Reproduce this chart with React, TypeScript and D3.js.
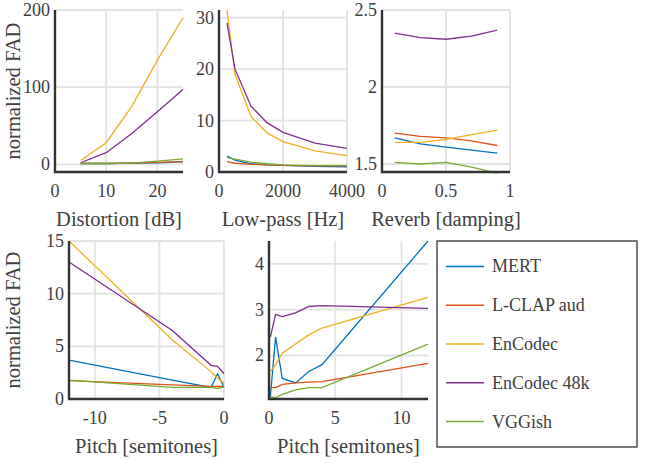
import * as d3 from "d3";

const names = ["MERT", "L-CLAP aud", "EnCodec", "EnCodec 48k", "VGGish"];
const colors = ["#0072BD", "#D95319", "#EDB120", "#7E2F8E", "#77AC30"];

const distX = [5, 10, 15, 20, 25];
const distY = [
  [1, 1, 1.5, 2, 3],
  [1, 1, 1.5, 2.5, 3.5],
  [5, 28, 75, 135, 190],
  [2, 15, 40, 68, 97],
  [1, 1, 1.5, 4, 7],
];
const lpX = [250, 500, 1000, 1500, 2000, 3000, 4000];
const lpY = [
  [3.1, 2.3, 1.6, 1.4, 1.3, 1.1, 1.0],
  [2.0, 1.7, 1.5, 1.4, 1.3, 1.2, 1.2],
  [31.5, 19, 10.8, 7.6, 5.9, 4.1, 3.2],
  [29, 20, 12.8, 9.6, 7.7, 5.6, 4.6],
  [2.8, 2.5, 1.9, 1.6, 1.4, 1.3, 1.3],
];
const revX = [0.1, 0.3, 0.5, 0.7, 0.9];
const revY = [
  [1.67, 1.63, 1.61, 1.59, 1.57],
  [1.70, 1.68, 1.67, 1.65, 1.62],
  [1.64, 1.64, 1.66, 1.69, 1.72],
  [2.35, 2.32, 2.31, 2.33, 2.37],
  [1.51, 1.50, 1.51, 1.48, 1.44],
];
const pnX = [-12, -4, -1, -0.5, 0];
const pnY = [
  [3.7, 1.8, 1.1, 2.4, 1.1],
  [1.75, 1.35, 1.2, 1.2, 1.2],
  [15, 5.6, 2.6, 2.0, 1.5],
  [13, 6.5, 3.2, 3.1, 2.4],
  [1.8, 1.1, 1.1, 1.0, 1.15],
];
const ppX = [0.1, 0.5, 1, 2, 3, 4, 12];
const ppY = [
  [1.1, 2.4, 1.5, 1.4, 1.65, 1.8, 4.5],
  [1.3, 1.3, 1.37, 1.4, 1.42, 1.43, 1.83],
  [1.65, 1.8, 2.05, 2.25, 2.45, 2.6, 3.27],
  [2.4, 2.9, 2.85, 2.93, 3.07, 3.09, 3.03],
  [1.1, 1.08, 1.15, 1.25, 1.3, 1.3, 2.25],
];

const FONT = "Liberation Serif, Times New Roman, serif";
const TXT = "#404040";

type P = {
  x0: number; x1: number; y0: number; y1: number;
  xd: [number, number]; yd: [number, number];
  xt: number[]; yt: number[]; xs: number[]; ys: number[][];
  label: string; ylab?: boolean;
};

const panels: P[] = [
  { x0: 55, x1: 183, y0: 172, y1: 10, xd: [0, 25], yd: [-10, 200], xt: [0, 10, 20], yt: [0, 100, 200], xs: distX, ys: distY, label: "Distortion [dB]", ylab: true },
  { x0: 219, x1: 347, y0: 172, y1: 10, xd: [0, 4000], yd: [0, 31.5], xt: [0, 2000, 4000], yt: [0, 10, 20, 30], xs: lpX, ys: lpY, label: "Low-pass [Hz]" },
  { x0: 382, x1: 510, y0: 172, y1: 10, xd: [0, 1], yd: [1.448, 2.5], xt: [0, 0.5, 1], yt: [1.5, 2, 2.5], xs: revX, ys: revY, label: "Reverb [damping]" },
  { x0: 69, x1: 224, y0: 399, y1: 241, xd: [-12, 0], yd: [0, 15], xt: [-10, -5, 0], yt: [0, 5, 10, 15], xs: pnX, ys: pnY, label: "Pitch [semitones]", ylab: true },
  { x0: 269, x1: 428, y0: 399, y1: 241, xd: [0, 12], yd: [1.05, 4.5], xt: [0, 5, 10], yt: [2, 3, 4], xs: ppX, ys: ppY, label: "Pitch [semitones]" },
];

function Panel({ p }: { p: P }) {
  const x = d3.scaleLinear().domain(p.xd).range([p.x0, p.x1]);
  const y = d3.scaleLinear().domain(p.yd).range([p.y0, p.y1]);
  const line = d3.line<number>().x((_d, i) => x(p.xs[i])).y((d) => y(d));
  return (
    <g>
      {p.xt.map((t) => <line key={"gx" + t} x1={x(t)} x2={x(t)} y1={p.y0} y2={p.y1} stroke="#e3e3e3" strokeWidth={1.8} />)}
      {p.yt.map((t) => <line key={"gy" + t} x1={p.x0} x2={p.x1} y1={y(t)} y2={y(t)} stroke="#e3e3e3" strokeWidth={1.8} />)}
      <g>
        {p.ys.map((s, i) => <path key={i} d={line(s) ?? ""} fill="none" stroke={colors[i]} strokeWidth={1.3} />)}
      </g>
      <path d={`M${p.x0},${p.y1}V${p.y0}H${p.x1}`} fill="none" stroke="#333" strokeWidth={2.4} />
      {p.xt.map((t) => <text key={"tx" + t} x={x(t)} y={p.y0 + 25} textAnchor="middle" fontSize={18} fontFamily={FONT} fill={TXT}>{t}</text>)}
      {p.yt.map((t) => <text key={"ty" + t} x={p.x0 - 5} y={y(t) + 6} textAnchor="end" fontSize={18} fontFamily={FONT} fill={TXT}>{t}</text>)}
      <text x={(p.x0 + p.x1) / 2} y={p.y0 + 54} textAnchor="middle" fontSize={20.5} fontFamily={FONT} fill={TXT}>{p.label}</text>
      {p.ylab && (
        <text transform={`translate(20,${(p.y0 + p.y1) / 2}) rotate(-90)`} textAnchor="middle" fontSize={20.5} fontFamily={FONT} fill={TXT}>normalized FAD</text>
      )}
    </g>
  );
}

export default function App() {
  const ly = d3.scaleBand<string>().domain(names).range([247, 441]);
  return (
    <svg width={645} height={464} style={{ position: "absolute", left: 0, top: 0 }}>
      <rect width={645} height={464} fill="#fff" />
      {panels.map((p, i) => <Panel key={i} p={p} />)}
      <rect x={437} y={241} width={200} height={206} fill="#fff" stroke="#333" strokeWidth={1.3} />
      {names.map((n, i) => {
        const cy = (ly(n) ?? 0) + ly.bandwidth() / 2;
        return (
          <g key={n}>
            <line x1={446} x2={484} y1={cy} y2={cy} stroke={colors[i]} strokeWidth={1.5} />
            <text x={492} y={cy + 6} fontSize={18} fontFamily={FONT} fill={TXT}>{n}</text>
          </g>
        );
      })}
    </svg>
  );
}
